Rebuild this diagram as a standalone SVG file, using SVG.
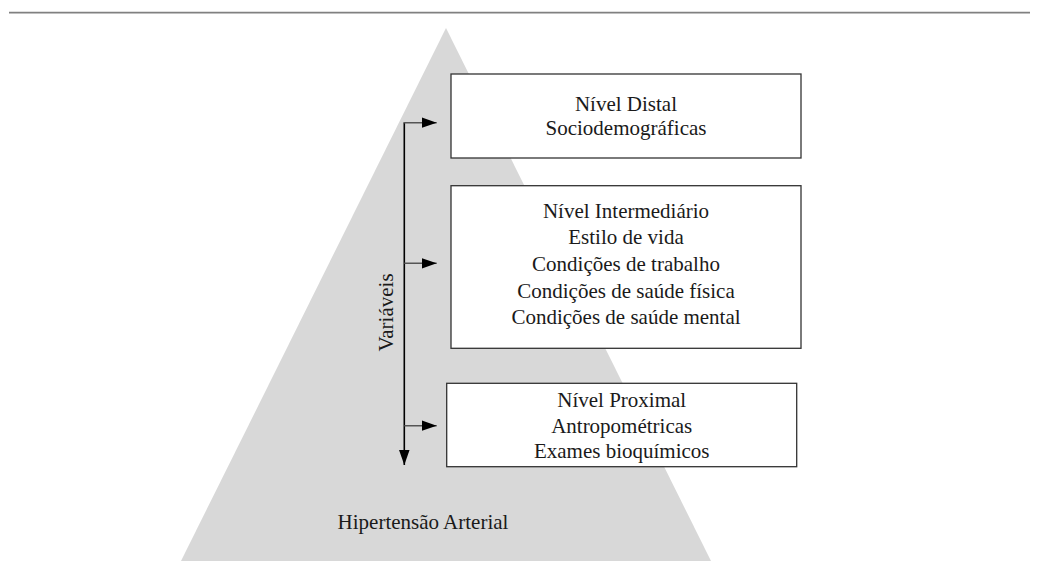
<svg xmlns="http://www.w3.org/2000/svg" width="1039" height="561" viewBox="0 0 1039 561">
<style>
.t{font-family:"Liberation Serif","Times New Roman",serif;font-size:21px;fill:#1a1a1a;text-anchor:middle}
.box{fill:#fff;stroke:#333;stroke-width:1.3}
.h{stroke:#555;stroke-width:1.6;fill:none}
.v{stroke:#000;stroke-width:1.6;fill:none}
</style>
<defs>
<marker id="ah" markerUnits="userSpaceOnUse" markerWidth="16" markerHeight="11" refX="15" refY="5.25" orient="auto">
<path d="M0,0 L15,5.25 L0,10.5 z" fill="#000"/>
</marker>
</defs>
<rect width="1039" height="561" fill="#fff"/>
<line x1="9" y1="12.7" x2="1030" y2="12.7" stroke="#808080" stroke-width="1.8"/>
<g id="pyramid">
<polygon points="446,28 711,561 181,561" fill="#d8d8d8"/>
<text class="t" x="423" y="529">Hipertensão Arterial</text>
</g>
<g id="distal">
<rect class="box" x="451" y="74" width="350" height="84"/>
<text class="t" x="626" y="110.7">Nível Distal</text>
<text class="t" x="626" y="135">Sociodemográficas</text>
</g>
<g id="intermediario">
<rect class="box" x="451" y="185.7" width="350" height="162.6"/>
<text class="t" x="626" y="217.7">Nível Intermediário</text>
<text class="t" x="626" y="244.3">Estilo de vida</text>
<text class="t" x="626" y="270.9">Condições de trabalho</text>
<text class="t" x="626" y="297.5">Condições de saúde física</text>
<text class="t" x="626" y="324">Condições de saúde mental</text>
</g>
<g id="proximal">
<rect class="box" x="446.7" y="383.3" width="350" height="83.4"/>
<text class="t" x="621.7" y="407.3">Nível Proximal</text>
<text class="t" x="621.7" y="432.8">Antropométricas</text>
<text class="t" x="621.7" y="458.3">Exames bioquímicos</text>
</g>
<g id="variaveis">
<text class="t" transform="translate(392.5,312.5) rotate(-90)" x="0" y="0">Variáveis</text>
</g>
<g id="connectors">
<line class="v" x1="404.3" y1="122.7" x2="404.3" y2="465" marker-end="url(#ah)"/>
<line class="h" x1="403.5" y1="122.7" x2="436.7" y2="122.7" marker-end="url(#ah)"/>
<line class="h" x1="404.3" y1="263.3" x2="436.7" y2="263.3" marker-end="url(#ah)"/>
<line class="h" x1="404.3" y1="425.7" x2="436.7" y2="425.7" marker-end="url(#ah)"/>
</g>
</svg>
